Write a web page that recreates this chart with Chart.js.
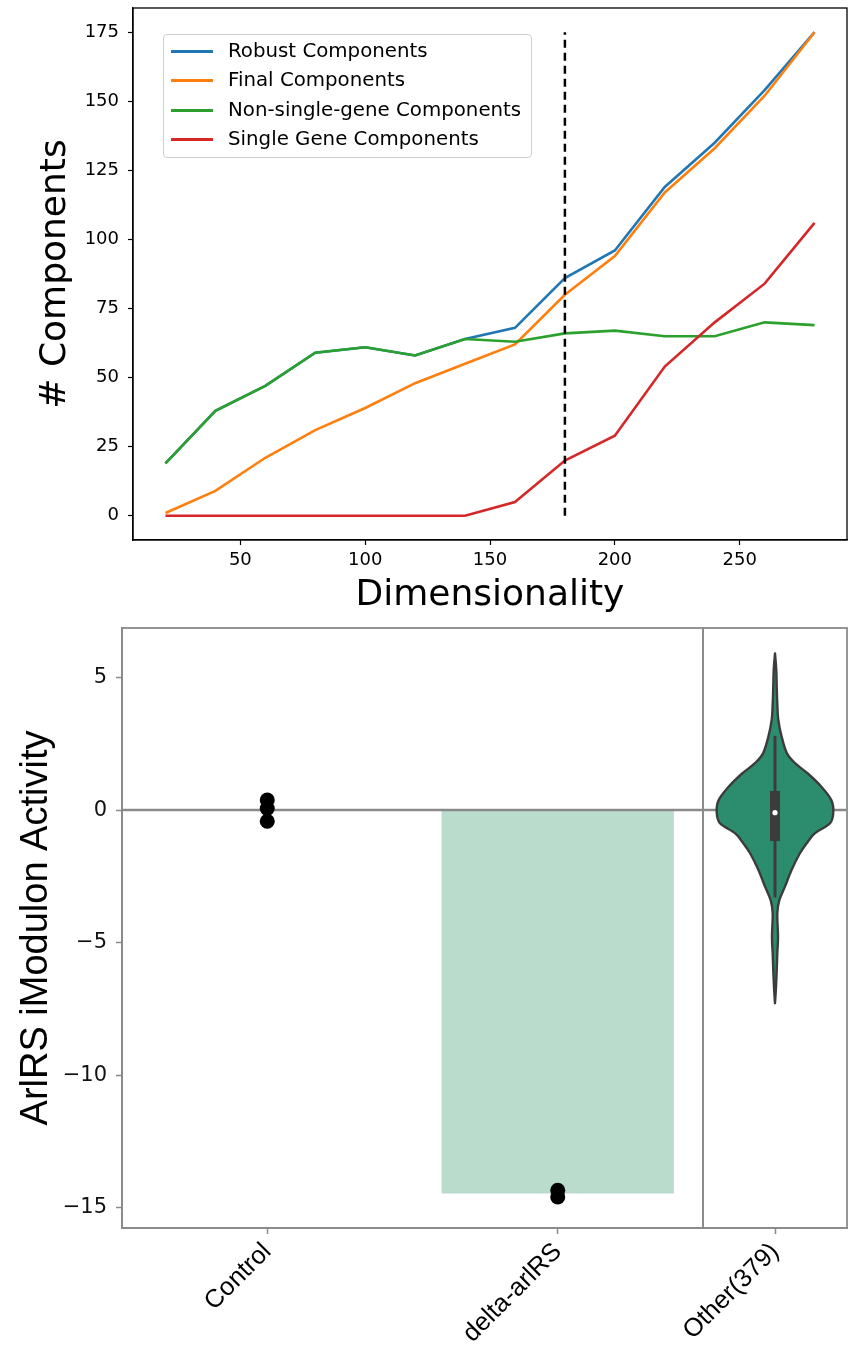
<!DOCTYPE html>
<html lang="en">
<head>
  <meta charset="UTF-8" />
  <title>Components vs Dimensionality / ArlRS iModulon</title>
  <script src="https://cdn.jsdelivr.net/npm/chart.js"></script>
  <style>
    body {
      margin: 0;
      width: 848px;
      height: 1352px;
      background: #fff;
      position: relative;
      overflow: hidden;
      font-family: 'DejaVu Sans', sans-serif;
    }
    canvas { position: absolute; }
    #topChart { left: 0; top: 0; }
    #barPanel { left: 0; top: 615px; }
    #violinPanel { left: 600px; top: 615px; }

    .legend {
      position: absolute;
      left: 163px;
      top: 34px;
      width: 367px;
      height: 122px;
      border: 1px solid #d0d0d0;
      border-radius: 4px;
      background: rgba(255, 255, 255, 0.8);
    }
    .legend .row { position: absolute; left: 0; width: 100%; height: 24px; }
    .legend .swatch { position: absolute; left: 7px; top: 11px; width: 42px; height: 3px; }
    .legend .txt {
      position: absolute;
      left: 64px;
      top: 0;
      line-height: 24px;
      font-size: 19.8px;
      color: #000;
      white-space: nowrap;
    }
  </style>
</head>
<body>
  <canvas id="topChart" width="848" height="618"></canvas>
  <div class="legend" id="legend"></div>
  <canvas id="barPanel" width="704" height="737"></canvas>
  <canvas id="violinPanel" width="248" height="737"></canvas>

  <script>
    // ---- top panel data ----
    const dims = [20, 40, 60, 80, 100, 120, 140, 160, 180, 200, 220, 240, 260, 280];
    const robust = [19, 38, 47, 59, 61, 58, 64, 68, 86, 96, 119, 135, 154, 175];
    const finalComp = [1, 9, 21, 31, 39, 48, 55, 62, 80, 94, 117, 133, 152, 175];
    const nonSingle = [19, 38, 47, 59, 61, 58, 64, 63, 66, 67, 65, 65, 70, 69];
    const singleGene = [0, 0, 0, 0, 0, 0, 0, 5, 20, 29, 54, 70, 84, 106];
    const seriesNames = ['Robust Components', 'Final Components', 'Non-single-gene Components', 'Single Gene Components'];
    const seriesColors = ['#1f77b4', '#ff7f0e', '#2ca02c', '#d62728'];
    const cutoffDim = 180;
    const cutoffRange = [0, 175];
    const topXTicks = [50, 100, 150, 200, 250];
    const topYTicks = [0, 25, 50, 75, 100, 125, 150, 175];

    // ---- bottom panel data ----
    const groups = ['Control', 'delta-arlRS'];
    const groupMeans = [0.01, -14.47];
    const controlPoints = [0.38, 0.06, -0.42];
    const arlrsPoints = [-14.35, -14.6];
    const otherLabel = 'Other(379)';
    // violin outline: activity value and half width (in category units)
    const violinValues = [5.91, 5.28, 4.65, 4.02, 3.40, 2.77, 2.14, 1.75, 1.38, 0.88, 0.38, -0.06, -0.5,
                          -0.88, -1.26, -1.64, -2.26, -2.89, -3.40, -3.9, -4.78, -5.41, -6.04, -6.67, -7.29];
    const violinHalfWidth = [0, 0.009, 0.012, 0.016, 0.023, 0.046, 0.083, 0.143, 0.228, 0.322, 0.391, 0.405, 0.382,
                             0.276, 0.219, 0.172, 0.115, 0.069, 0.030, 0.016, 0.021, 0.016, 0.012, 0.007, 0];
    const otherBox = [-1.17, 0.72];
    const otherWhiskers = [-3.3, 2.8];
    const otherMedian = -0.1;
    const bottomYTicks = [5, 0, -5, -10, -15];

    const toXY = arr => dims.map((d, i) => ({ x: d, y: arr[i] }));

    // frame round the plot area
    const framePlugin = {
      id: 'frame',
      afterDraw(chart, args, opts) {
        const { ctx, chartArea: a } = chart;
        ctx.save();
        ctx.strokeStyle = opts.color;
        ctx.lineWidth = opts.width;
        ctx.strokeRect(a.left, a.top, a.right - a.left, a.bottom - a.top);
        ctx.restore();
      }
    };

    function zeroLine(chart) {
      const { ctx, chartArea: a, scales } = chart;
      const y = scales.y.getPixelForValue(0);
      ctx.save();
      ctx.strokeStyle = '#8a8a8a';
      ctx.lineWidth = 2.4;
      ctx.beginPath();
      ctx.moveTo(a.left, y);
      ctx.lineTo(a.right, y);
      ctx.stroke();
      ctx.restore();
    }

    // ---- top chart ----
    new Chart(document.getElementById('topChart'), {
      type: 'line',
      data: {
        datasets: [
          { label: seriesNames[0], data: toXY(robust), borderColor: seriesColors[0], order: 4 },
          { label: seriesNames[1], data: toXY(finalComp), borderColor: seriesColors[1], order: 3 },
          { label: seriesNames[2], data: toXY(nonSingle), borderColor: seriesColors[2], order: 2 },
          { label: seriesNames[3], data: toXY(singleGene), borderColor: seriesColors[3], order: 1 },
          {
            label: 'cutoff',
            data: cutoffRange.map(v => ({ x: cutoffDim, y: v })),
            borderColor: '#000',
            borderDash: [8, 5],
            borderWidth: 2.5,
            order: 0
          }
        ]
      },
      options: {
        responsive: false,
        animation: false,
        devicePixelRatio: 1,
        layout: { autoPadding: false, padding: { top: 8, right: 1, left: 0, bottom: 0 } },
        elements: {
          line: { borderWidth: 2.6, tension: 0, fill: false },
          point: { radius: 0 }
        },
        plugins: {
          legend: { display: false },
          tooltip: { enabled: false },
          frame: { color: '#000', width: 1.3 }
        },
        scales: {
          x: {
            type: 'linear',
            min: 7,
            max: 293,
            afterBuildTicks: s => { s.ticks = topXTicks.map(v => ({ value: v })); },
            afterFit: s => { s.height = 78; s.paddingLeft = 0; s.paddingRight = 0; },
            grid: { drawOnChartArea: false, tickLength: 5, tickWidth: 1.2, tickColor: '#000' },
            border: { color: '#000', width: 1.3 },
            ticks: { color: '#000', font: { family: 'DejaVu Sans', size: 18 }, padding: 5, maxRotation: 0 },
            title: {
              display: true,
              text: 'Dimensionality',
              color: '#000',
              font: { family: 'DejaVu Sans', size: 36, lineHeight: 1.2 },
              padding: { top: 0, bottom: 1 }
            }
          },
          y: {
            min: -8.75,
            max: 183.75,
            afterBuildTicks: s => { s.ticks = topYTicks.map(v => ({ value: v })); },
            afterFit: s => { s.width = 133; s.paddingTop = 0; s.paddingBottom = 0; },
            grid: { drawOnChartArea: false, tickLength: 5, tickWidth: 1.2, tickColor: '#000' },
            border: { color: '#000', width: 1.3 },
            ticks: { color: '#000', font: { family: 'DejaVu Sans', size: 18 }, padding: 9 },
            title: {
              display: true,
              text: '# Components',
              color: '#000',
              font: { family: 'DejaVu Sans', size: 36, lineHeight: 1.2 },
              padding: { top: 34, bottom: 0 }
            }
          }
        }
      },
      plugins: [framePlugin]
    });

    // html legend built from the series arrays
    const legendEl = document.getElementById('legend');
    seriesNames.forEach((name, i) => {
      const row = document.createElement('div');
      row.className = 'row';
      row.style.top = Math.round(4 + i * 29.3) + 'px';
      row.innerHTML = '<span class="swatch" style="background:' + seriesColors[i] + '"></span>' +
                      '<span class="txt">' + name + '</span>';
      legendEl.appendChild(row);
    });

    // ---- bottom left: bars + sample points ----
    const bottomY = {
      min: -15.77,
      max: 6.87,
      afterBuildTicks: s => { s.ticks = bottomYTicks.map(v => ({ value: v })); },
      afterFit: s => { s.width = 122; s.paddingTop = 0; s.paddingBottom = 0; },
      grid: { drawOnChartArea: false, tickLength: 6, tickWidth: 1.5, tickColor: '#8a8a8a' },
      border: { color: '#8a8a8a', width: 1.8 },
      ticks: {
        color: '#111',
        font: { family: 'DejaVu Sans', size: 21 },
        padding: 9,
        callback: v => String(v).replace('-', '\u2212')
      },
      title: {
        display: true,
        text: 'ArlRS iModulon Activity',
        color: '#000',
        font: { family: 'Liberation Sans', size: 38, lineHeight: 1.2 },
        padding: { top: 14, bottom: 0 }
      }
    };

    const bottomXTicks = {
      color: '#000',
      font: { family: 'Liberation Sans', size: 25.5 },
      minRotation: 45,
      maxRotation: 45,
      padding: 3
    };

    new Chart(document.getElementById('barPanel'), {
      type: 'bar',
      data: {
        labels: groups,
        datasets: [
          {
            type: 'bar',
            data: groupMeans,
            backgroundColor: '#badccd',
            borderWidth: 0,
            barPercentage: 0.8,
            categoryPercentage: 1,
            order: 2
          },
          {
            type: 'line',
            showLine: false,
            data: controlPoints.map(v => ({ x: groups[0], y: v }))
              .concat(arlrsPoints.map(v => ({ x: groups[1], y: v }))),
            pointRadius: 7.5,
            pointBackgroundColor: '#000',
            pointBorderWidth: 0,
            order: 1
          }
        ]
      },
      options: {
        responsive: false,
        animation: false,
        devicePixelRatio: 1,
        layout: { autoPadding: false, padding: { top: 13, right: 1, left: 0, bottom: 0 } },
        plugins: {
          legend: { display: false },
          tooltip: { enabled: false },
          frame: { color: '#8a8a8a', width: 1.8 }
        },
        scales: {
          x: {
            afterFit: s => { s.height = 124; s.paddingLeft = 0; s.paddingRight = 0; },
            grid: { offset: false, drawOnChartArea: false, tickLength: 6, tickWidth: 1.5, tickColor: '#8a8a8a' },
            border: { color: '#8a8a8a', width: 1.8 },
            ticks: bottomXTicks
          },
          y: bottomY
        }
      },
      plugins: [framePlugin, {
        id: 'zeroAfterBars',
        afterDatasetDraw(chart, args) {
          if (args.meta.type === 'bar') zeroLine(chart);
        }
      }]
    });

    // ---- bottom right: violin of the other samples ----
    function smoothSide(ctx, pts) {
      for (let i = 0; i < pts.length - 1; i++) {
        const p0 = pts[Math.max(i - 1, 0)], p1 = pts[i], p2 = pts[i + 1], p3 = pts[Math.min(i + 2, pts.length - 1)];
        const t = 1 / 6;
        ctx.bezierCurveTo(
          p1[0] + (p2[0] - p0[0]) * t, p1[1] + (p2[1] - p0[1]) * t,
          p2[0] - (p3[0] - p1[0]) * t, p2[1] - (p3[1] - p1[1]) * t,
          p2[0], p2[1]);
      }
    }

    const violinPlugin = {
      id: 'violin',
      beforeDatasetsDraw(chart) {
        zeroLine(chart);
        const { ctx, scales } = chart;
        const right = violinValues.map((v, i) => [scales.x.getPixelForValue(violinHalfWidth[i]), scales.y.getPixelForValue(v)]);
        const left = violinValues.map((v, i) => [scales.x.getPixelForValue(-violinHalfWidth[i]), scales.y.getPixelForValue(v)]).reverse();
        ctx.save();
        ctx.beginPath();
        ctx.moveTo(right[0][0], right[0][1]);
        smoothSide(ctx, right);
        ctx.lineTo(left[0][0], left[0][1]);
        smoothSide(ctx, left);
        ctx.closePath();
        ctx.fillStyle = '#2c8d6e';
        ctx.fill();
        ctx.lineWidth = 2.4;
        ctx.strokeStyle = '#3c3c3c';
        ctx.lineJoin = 'round';
        ctx.stroke();
        ctx.restore();
      }
    };

    new Chart(document.getElementById('violinPanel'), {
      type: 'line',
      data: {
        datasets: [
          {
            data: otherWhiskers.map(v => ({ x: 0, y: v })),
            borderColor: '#3c3c3c',
            borderWidth: 3,
            pointRadius: 0,
            order: 3
          },
          {
            data: otherBox.map(v => ({ x: 0, y: v })),
            borderColor: '#3c3c3c',
            borderWidth: 10,
            borderCapStyle: 'butt',
            pointRadius: 0,
            order: 2
          },
          {
            data: [{ x: 0, y: otherMedian }],
            showLine: false,
            pointRadius: 2.6,
            pointBackgroundColor: '#fff',
            pointBorderWidth: 0,
            order: 1
          }
        ]
      },
      options: {
        responsive: false,
        animation: false,
        devicePixelRatio: 1,
        layout: { autoPadding: false, padding: { top: 13, right: 1, left: 103, bottom: 0 } },
        plugins: {
          legend: { display: false },
          tooltip: { enabled: false },
          frame: { color: '#8a8a8a', width: 1.8 }
        },
        scales: {
          x: {
            type: 'linear',
            min: -0.5,
            max: 0.5,
            afterBuildTicks: s => { s.ticks = [{ value: 0 }]; },
            afterFit: s => { s.height = 124; s.paddingLeft = 0; s.paddingRight = 0; },
            grid: { drawOnChartArea: false, tickLength: 6, tickWidth: 1.5, tickColor: '#8a8a8a' },
            border: { color: '#8a8a8a', width: 1.8 },
            ticks: Object.assign({}, bottomXTicks, { callback: () => otherLabel })
          },
          y: { display: false, min: -15.77, max: 6.87 }
        }
      },
      plugins: [framePlugin, violinPlugin]
    });
  </script>
</body>
</html>
